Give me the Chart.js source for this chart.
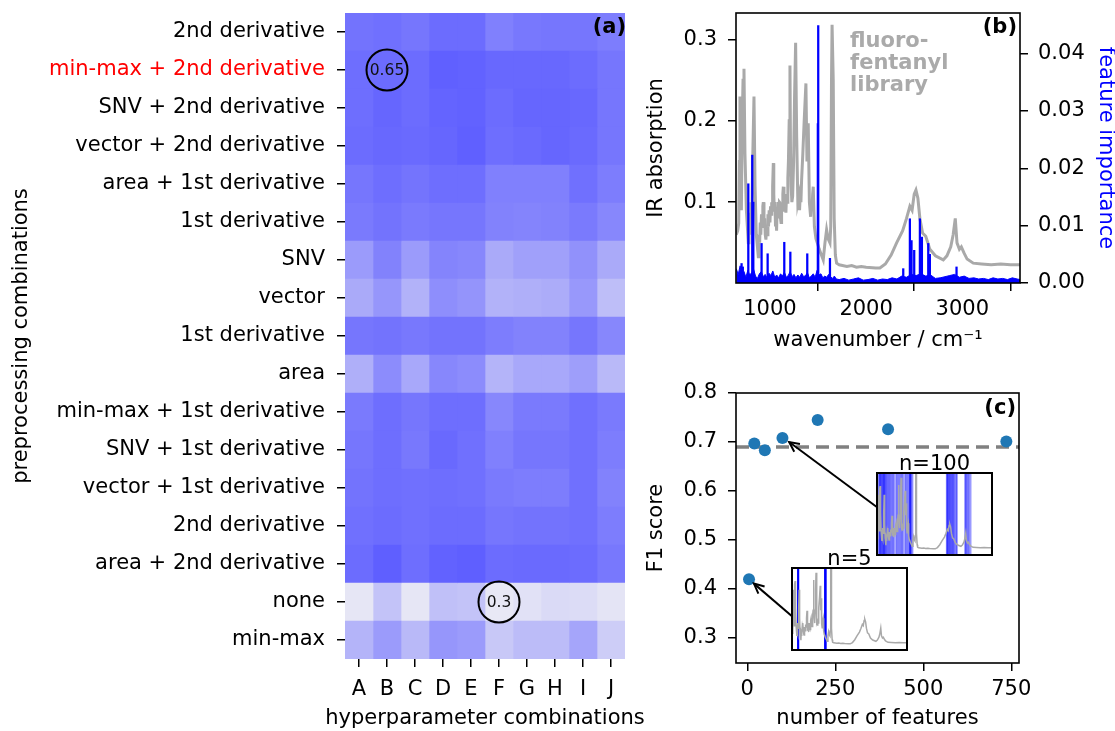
<!DOCTYPE html>
<html><head><meta charset="utf-8">
<script src="https://cdn.jsdelivr.net/npm/chart.js@4.4.1/dist/chart.umd.min.js"></script>
<style>
html,body{margin:0;padding:0;background:#fff;overflow:hidden;width:1115px;height:731px;position:relative;}
.box{position:absolute;}
canvas{display:block;}
</style></head><body>
<div class="box" style="left:0;top:0;width:670px;height:731px"><canvas id="ca" width="670" height="731"></canvas></div>
<div class="box" style="left:640px;top:0;width:478px;height:370px"><canvas id="cb" width="478" height="370"></canvas></div>
<div class="box" style="left:640px;top:380px;width:475px;height:351px"><canvas id="cc" width="475" height="351"></canvas></div>
<div class="box" style="left:876px;top:452px;width:117px;height:104px"><canvas id="ci1" width="117" height="104"></canvas></div>
<div class="box" style="left:791px;top:547px;width:117px;height:104px"><canvas id="ci2" width="117" height="104"></canvas></div>
<script>
// ---------- (a) heatmap data ----------
const prepLabels = ['2nd derivative','min-max + 2nd derivative','SNV + 2nd derivative','vector + 2nd derivative',
  'area + 1st derivative','1st derivative','SNV','vector','1st derivative','area','min-max + 1st derivative',
  'SNV + 1st derivative','vector + 1st derivative','2nd derivative','area + 2nd derivative','none','min-max'];
const hyperLabels = ['A','B','C','D','E','F','G','H','I','J'];
const highlightRow = 1;
const heatRows = [
  [0.630,0.638,0.621,0.650,0.650,0.593,0.616,0.621,0.621,0.602],
  [0.644,0.650,0.650,0.683,0.678,0.661,0.661,0.661,0.650,0.621],
  [0.644,0.667,0.650,0.672,0.678,0.650,0.667,0.667,0.661,0.621],
  [0.650,0.661,0.655,0.667,0.683,0.644,0.655,0.667,0.655,0.621],
  [0.621,0.644,0.627,0.644,0.644,0.593,0.593,0.593,0.638,0.602],
  [0.610,0.630,0.610,0.621,0.621,0.588,0.582,0.588,0.610,0.574],
  [0.517,0.588,0.517,0.582,0.574,0.475,0.503,0.503,0.545,0.475],
  [0.475,0.531,0.452,0.554,0.537,0.452,0.461,0.469,0.526,0.418],
  [0.621,0.630,0.616,0.630,0.630,0.602,0.588,0.588,0.621,0.574],
  [0.461,0.559,0.480,0.574,0.559,0.447,0.480,0.480,0.509,0.433],
  [0.610,0.644,0.621,0.644,0.644,0.574,0.610,0.610,0.638,0.610],
  [0.621,0.644,0.616,0.658,0.638,0.593,0.621,0.621,0.638,0.602],
  [0.630,0.644,0.638,0.644,0.638,0.610,0.602,0.602,0.638,0.588],
  [0.638,0.650,0.638,0.650,0.650,0.621,0.630,0.630,0.638,0.602],
  [0.650,0.686,0.644,0.678,0.686,0.650,0.655,0.655,0.650,0.616],
  [0.306,0.404,0.306,0.413,0.404,0.300,0.320,0.339,0.334,0.311],
  [0.447,0.517,0.433,0.531,0.517,0.390,0.424,0.424,0.489,0.376]
];
const annotRows = [1, 15];
const annotCols = [1, 5];
const annotText = ['0.65', '0.3'];
const heatXTitle = 'hyperparameter combinations';

// ---------- (b) spectrum + feature importance ----------
const specWn = [650,665,675,682,688,695,703,712,720,730,740,755,775,782,790,796,802,812,822,834,845,858,879,886,893,899,905,912,920,926,931,938,945,951,958,965,972,979,985,992,1000,1006,1012,1018,1022,1028,1035,1040,1045,1051,1058,1063,1069,1074,1080,1086,1092,1098,1104,1110,1115,1121,1128,1134,1139,1146,1152,1159,1166,1173,1180,1186,1192,1200,1208,1214,1220,1228,1236,1246,1256,1267,1278,1290,1301,1308,1315,1322,1329,1342,1356,1374,1385,1398,1410,1423,1430,1437,1444,1450,1462,1478,1492,1513,1535,1554,1572,1589,1605,1624,1632,1640,1646,1652,1658,1668,1680,1693,1720,1800,1850,1900,1950,2000,2100,2143,2200,2260,2317,2380,2420,2455,2478,2500,2518,2538,2559,2587,2620,2663,2720,2802,2840,2880,2905,2927,2945,2970,2990,3020,3050,3114,3200,3300,3400,3500,3600];
const specAbs = [0.06,0.065,0.074,0.15,0.23,0.13,0.09,0.2,0.25,0.264,0.16,0.09,0.05,0.07,0.06,0.085,0.1,0.08,0.16,0.23,0.12,0.06,0.033,0.06,0.05,0.075,0.06,0.085,0.07,0.095,0.1,0.075,0.08,0.06,0.054,0.07,0.06,0.085,0.07,0.09,0.075,0.095,0.085,0.1,0.09,0.12,0.148,0.11,0.09,0.1,0.07,0.085,0.065,0.09,0.08,0.1,0.085,0.1,0.099,0.08,0.075,0.095,0.09,0.11,0.119,0.1,0.09,0.1,0.087,0.11,0.1,0.13,0.15,0.2,0.268,0.16,0.12,0.1,0.107,0.15,0.23,0.296,0.18,0.1,0.107,0.09,0.11,0.1,0.127,0.16,0.2,0.246,0.15,0.197,0.1,0.082,0.1,0.09,0.11,0.119,0.07,0.055,0.05,0.042,0.035,0.029,0.05,0.066,0.055,0.05,0.07,0.25,0.318,0.318,0.25,0.08,0.035,0.025,0.023,0.021,0.022,0.02,0.021,0.02,0.019,0.019,0.024,0.035,0.05,0.065,0.08,0.095,0.09,0.11,0.115,0.105,0.08,0.062,0.058,0.042,0.034,0.029,0.034,0.045,0.06,0.08,0.05,0.042,0.045,0.037,0.03,0.025,0.024,0.023,0.024,0.023,0.023];
const impWn = [650,670,690,710,730,750,770,790,810,830,850,870,890,910,930,950,970,990,1010,1030,1050,1070,1090,1110,1130,1150,1170,1190,1210,1230,1250,1270,1290,1310,1330,1350,1370,1390,1410,1430,1450,1470,1490,1510,1530,1550,1570,1590,1610,1630,1650,1670,1690,1720,1770,1820,1870,1920,1970,2020,2070,2120,2170,2220,2270,2320,2370,2420,2470,2520,2570,2620,2670,2720,2770,2820,2870,2920,2970,3020,3070,3120,3170,3220,3270,3320,3370,3420,3470,3520,3570,3600];
const impVal = [0.0025,0.0015,0.0030,0.0012,0.0020,0.0010,0.0022,0.0014,0.0018,0.0024,0.0012,0.0008,0.0016,0.0020,0.0011,0.0015,0.0009,0.0017,0.0013,0.0021,0.0010,0.0014,0.0009,0.0016,0.0012,0.0019,0.0010,0.0013,0.0020,0.0011,0.0015,0.0009,0.0014,0.0010,0.0017,0.0011,0.0013,0.0018,0.0009,0.0012,0.0016,0.0010,0.0022,0.0014,0.0016,0.0009,0.0012,0.0010,0.0015,0.0011,0.0008,0.0012,0.0007,0.0006,0.0008,0.0005,0.0007,0.0009,0.0005,0.0006,0.0008,0.0005,0.0007,0.0006,0.0009,0.0007,0.0012,0.0010,0.0015,0.0013,0.0016,0.0012,0.0014,0.0008,0.0009,0.0011,0.0013,0.0015,0.0010,0.0012,0.0008,0.0009,0.0007,0.0008,0.0006,0.0009,0.0007,0.0008,0.0006,0.0009,0.0007,0.0006];
const spikeWn = [705,718,775,816,827,913,976,1149,1212,1388,1498,1502,1624,2386,2455,2472,2500,2559,2580,2646,2663,2940];
const spikeVal = [0.0034,0.0028,0.0173,0.0223,0.0141,0.0069,0.0051,0.0071,0.0054,0.0051,0.0278,0.0449,0.0043,0.0025,0.0112,0.0074,0.0057,0.0112,0.0080,0.0069,0.0050,0.0028];
const libraryText = ['fluoro-', 'fentanyl', 'library'];

// ---------- (c) F1 vs number of features ----------
const nFeatures = [5, 20, 50, 100, 200, 400, 736];
const f1Values = [0.42, 0.697, 0.683, 0.708, 0.745, 0.726, 0.701];
const baselineF1 = 0.69;
const xLimC = [-32, 772];
const feat100 = [700,715,730,745,760,780,800,816,827,840,855,880,900,925,950,975,1000,1030,1060,1090,1140,1170,1200,1230,1260,1290,1320,1370,1400,1430,1460,1490,1498,1502,1510,1530,1560,2440,2455,2460,2480,2500,2520,2540,2559,2580,2600,2620,2646,2680,2700,2910,2930,2950,2980,3010,3050];
const feat5 = [805, 812, 1500, 1506, 1512];
const arrowFrom = [[367, 0.568], [128, 0.344]];
const arrowTo = [[119, 0.700], [19, 0.411]];

// ---------- common ----------
Chart.defaults.font.family = "'DejaVu Sans', sans-serif";
Chart.defaults.font.size = 21;
Chart.defaults.color = '#000';
Chart.defaults.animation = false;
Chart.defaults.plugins.legend.display = false;
Chart.defaults.plugins.tooltip.enabled = false;

function heatColor(v) {
  const t = Math.max(0, Math.min(1, (v - 0.30) / 0.39));
  const r = Math.round(232 - 138 * t);
  const b = Math.round(245 + 10 * t);
  return 'rgb(' + r + ',' + r + ',' + b + ')';
}
const tickGrid = {drawOnChartArea:false, tickLength:8, color:'#000', lineWidth:1.5};
function setTicks(vals) { return s => { s.ticks = vals.map(v => ({value: v})); }; }
function fitH(h) { return s => { s.height = h; s.paddingLeft = 0; s.paddingRight = 0; }; }
function fitW(w) { return s => { s.width = w; s.paddingTop = 0; s.paddingBottom = 0; }; }

function panelPlugin(label, dx, dy, frame, extra) {
  return {
    id: 'panel' + label,
    afterDraw(chart) {
      const {ctx, chartArea: a} = chart;
      ctx.save();
      if (frame) {
        ctx.strokeStyle = '#000'; ctx.lineWidth = 1.6;
        ctx.strokeRect(a.left, a.top, a.right - a.left, a.bottom - a.top);
      }
      if (extra) extra(chart);
      ctx.font = "bold 21px 'DejaVu Sans'";
      ctx.fillStyle = '#000'; ctx.textAlign = 'right'; ctx.textBaseline = 'middle';
      ctx.fillText(label, a.right + dx, a.top + dy);
      ctx.restore();
    }
  };
}

// ---------- (a) ----------
const heatAnnot = {
  id: 'heatAnnot',
  afterDatasetsDraw(chart) {
    const {ctx, scales: {x, y}} = chart;
    ctx.save();
    for (let i = 0; i < annotText.length; i++) {
      const cx = x.getPixelForValue(annotCols[i] + 0.5);
      const cy = y.getPixelForValue(annotRows[i]);
      ctx.beginPath(); ctx.arc(cx, cy, 20.5, 0, 2 * Math.PI);
      ctx.lineWidth = 2; ctx.strokeStyle = '#000'; ctx.stroke();
      ctx.font = "15.5px 'DejaVu Sans'"; ctx.fillStyle = '#111';
      ctx.textAlign = 'center'; ctx.textBaseline = 'middle';
      ctx.fillText(annotText[i], cx, cy + 1);
    }
    ctx.restore();
  }
};
new Chart(document.getElementById('ca'), {
  type: 'bar',
  data: {
    labels: prepLabels,
    datasets: hyperLabels.map((lab, c) => ({
      label: lab,
      data: prepLabels.map(() => [c, c + 1]),
      backgroundColor: heatRows.map(r => heatColor(r[c])),
      borderWidth: 0, barPercentage: 1, categoryPercentage: 1, grouped: false
    }))
  },
  options: {
    indexAxis: 'y', responsive: false,
    layout: {padding: {top: 13, right: 45, left: 0, bottom: 0}},
    scales: {
      x: {type: 'linear', min: 0, max: 10, offset: false,
        afterBuildTicks: setTicks(hyperLabels.map((_, i) => i + 0.5)),
        afterFit: fitH(72),
        ticks: {autoSkip: false, padding: 10, maxRotation: 0, callback: (v, i) => hyperLabels[i]},
        grid: tickGrid, border: {display: false},
        title: {display: false}},
      y: {type: 'category', offset: true,
        afterFit: fitW(345),
        ticks: {autoSkip: false, padding: 12, color: ctx => ctx.index === highlightRow ? '#ff0000' : '#000'},
        grid: Object.assign({offset: false}, tickGrid), border: {display: false},
        title: {display: true, text: 'preprocessing combinations', padding: {top: 9, bottom: 0}}}
    }
  },
  plugins: [heatAnnot, panelPlugin('(a)', 1, 15, false, chart => {
    const {ctx, chartArea: a} = chart;
    ctx.font = "21px 'DejaVu Sans'"; ctx.fillStyle = '#000';
    ctx.textAlign = 'center'; ctx.textBaseline = 'middle';
    ctx.fillText(heatXTitle, (a.left + a.right) / 2, chart.height - 12.6);
  })]
});

// ---------- (b) ----------
new Chart(document.getElementById('cb'), {
  type: 'line',
  data: {datasets: [
    {type: 'bar', yAxisID: 'y2', data: spikeWn.map((w, i) => ({x: w, y: spikeVal[i]})),
     backgroundColor: '#0000ff', barThickness: 1.6, grouped: false, order: 0},
    {type: 'line', yAxisID: 'y2', data: impWn.map((w, i) => ({x: w, y: impVal[i]})),
     borderColor: '#0000ff', backgroundColor: '#0000ff', borderWidth: 1, pointRadius: 0, fill: 'origin', tension: 0, order: 1},
    {type: 'line', yAxisID: 'y', data: specWn.map((w, i) => ({x: w, y: specAbs[i]})),
     borderColor: '#a9a9a9', borderWidth: 3, pointRadius: 0, tension: 0, fill: false, order: 2}
  ]},
  options: {
    responsive: false,
    layout: {padding: {top: 13, left: 0, right: 0, bottom: 0}},
    scales: {
      x: {type: 'linear', min: 647, max: 3600, offset: false,
        afterBuildTicks: setTicks([1000, 2000, 3000]), afterFit: fitH(87),
        ticks: {padding: 6, maxRotation: 0, callback: v => String(v)},
        grid: tickGrid, border: {display: false},
        title: {display: true, text: 'wavenumber / cm\u207B\u00B9', padding: {top: 0, bottom: 17}}},
      y: {type: 'linear', position: 'left', min: 0.0006, max: 0.3326,
        afterBuildTicks: setTicks([0.1, 0.2, 0.3]), afterFit: fitW(96),
        ticks: {padding: 11, callback: v => v.toFixed(1)},
        grid: tickGrid, border: {display: false},
        title: {display: true, text: 'IR absorption', padding: {top: 4, bottom: 0}}},
      y2: {type: 'linear', position: 'right', min: 0, max: 0.04708,
        afterBuildTicks: setTicks([0, 0.01, 0.02, 0.03, 0.04]), afterFit: fitW(98),
        ticks: {padding: 10, callback: v => v.toFixed(2)},
        grid: tickGrid, border: {display: false},
        title: {display: true, text: 'feature importance', color: '#0000ff', padding: {top: 0, bottom: 0}}}
    }
  },
  plugins: [panelPlugin('(b)', -3, 15, true, chart => {
    const {ctx, chartArea: a} = chart;
    ctx.font = "bold 21px 'DejaVu Sans'"; ctx.fillStyle = '#aaaaaa';
    ctx.textAlign = 'left'; ctx.textBaseline = 'middle';
    libraryText.forEach((t, i) => ctx.fillText(t, a.left + 114, a.top + 29 + i * 21.7));
  })]
});

// ---------- (c) ----------
new Chart(document.getElementById('cc'), {
  type: 'line',
  data: {datasets: [
    {type: 'scatter', data: nFeatures.map((n, i) => ({x: n, y: f1Values[i]})),
     backgroundColor: '#1f77b4', borderWidth: 0, pointRadius: 6, showLine: false, order: 0},
    {type: 'line', data: xLimC.map(x => ({x: x, y: baselineF1})),
     borderColor: '#808080', borderWidth: 3.5, borderDash: [13, 7], pointRadius: 0, fill: false, order: 1}
  ]},
  options: {
    responsive: false,
    layout: {padding: {top: 13, left: 0, right: 96, bottom: 0}},
    scales: {
      x: {type: 'linear', min: xLimC[0], max: xLimC[1], offset: false,
        afterBuildTicks: setTicks([0, 250, 500, 750]), afterFit: fitH(68),
        ticks: {padding: 6, maxRotation: 0, callback: v => String(v)},
        grid: tickGrid, border: {display: false},
        title: {display: true, text: 'number of features', padding: {top: 0, bottom: 0}}},
      y: {type: 'linear', min: 0.249, max: 0.8,
        afterBuildTicks: setTicks([0.3, 0.4, 0.5, 0.6, 0.7, 0.8]), afterFit: fitW(96),
        ticks: {padding: 11, callback: v => v.toFixed(1)},
        grid: tickGrid, border: {display: false},
        title: {display: true, text: 'F1 score', padding: {top: 4, bottom: 0}}}
    }
  },
  plugins: [panelPlugin('(c)', -3, 16, true, chart => {
    const {ctx, scales: {x, y}} = chart;
    ctx.strokeStyle = '#000'; ctx.lineWidth = 2;
    for (let i = 0; i < arrowFrom.length; i++) {
      const x0 = x.getPixelForValue(arrowFrom[i][0]), y0 = y.getPixelForValue(arrowFrom[i][1]);
      const x1 = x.getPixelForValue(arrowTo[i][0]), y1 = y.getPixelForValue(arrowTo[i][1]);
      const ang = Math.atan2(y1 - y0, x1 - x0);
      ctx.beginPath(); ctx.moveTo(x0, y0); ctx.lineTo(x1, y1); ctx.stroke();
      const L = 11, w = 0.45;
      ctx.beginPath();
      ctx.moveTo(x1 - L * Math.cos(ang - w), y1 - L * Math.sin(ang - w));
      ctx.lineTo(x1, y1);
      ctx.lineTo(x1 - L * Math.cos(ang + w), y1 - L * Math.sin(ang + w));
      ctx.stroke();
    }
  })]
});

// ---------- insets ----------
function inset(id, title, feats, color, thick) {
  new Chart(document.getElementById(id), {
    type: 'line',
    data: {datasets: [
      {type: 'line', data: specWn.map((w, i) => ({x: w, y: specAbs[i]})),
       borderColor: '#a9a9a9', borderWidth: 1.5, pointRadius: 0, tension: 0, fill: false, order: 0},
      {type: 'bar', data: feats.map(w => ({x: w, y: [-0.005, 0.315]})),
       backgroundColor: color, barThickness: thick, grouped: false, order: 1}
    ]},
    options: {
      responsive: false,
      layout: {padding: {top: 0, left: 1, right: 1, bottom: 1}},
      plugins: {title: {display: true, text: title, color: '#000',
        font: {size: 21, weight: 'normal', lineHeight: 1}, padding: {top: 2, bottom: -2}}},
      scales: {
        x: {type: 'linear', min: 650, max: 3600, display: false, offset: false},
        y: {type: 'linear', min: -0.005, max: 0.315, display: false}
      }
    },
    plugins: [{id: 'insetFrame', afterDraw(chart) {
      const {ctx, chartArea: a} = chart;
      ctx.save(); ctx.strokeStyle = '#000'; ctx.lineWidth = 2;
      ctx.strokeRect(a.left, a.top, a.right - a.left, a.bottom - a.top); ctx.restore();
    }}]
  });
}
inset('ci1', 'n=100', feat100, 'rgba(0,0,255,0.4)', 1.2);
inset('ci2', 'n=5', feat5, '#0000ff', 1.2);
</script>
</body></html>
